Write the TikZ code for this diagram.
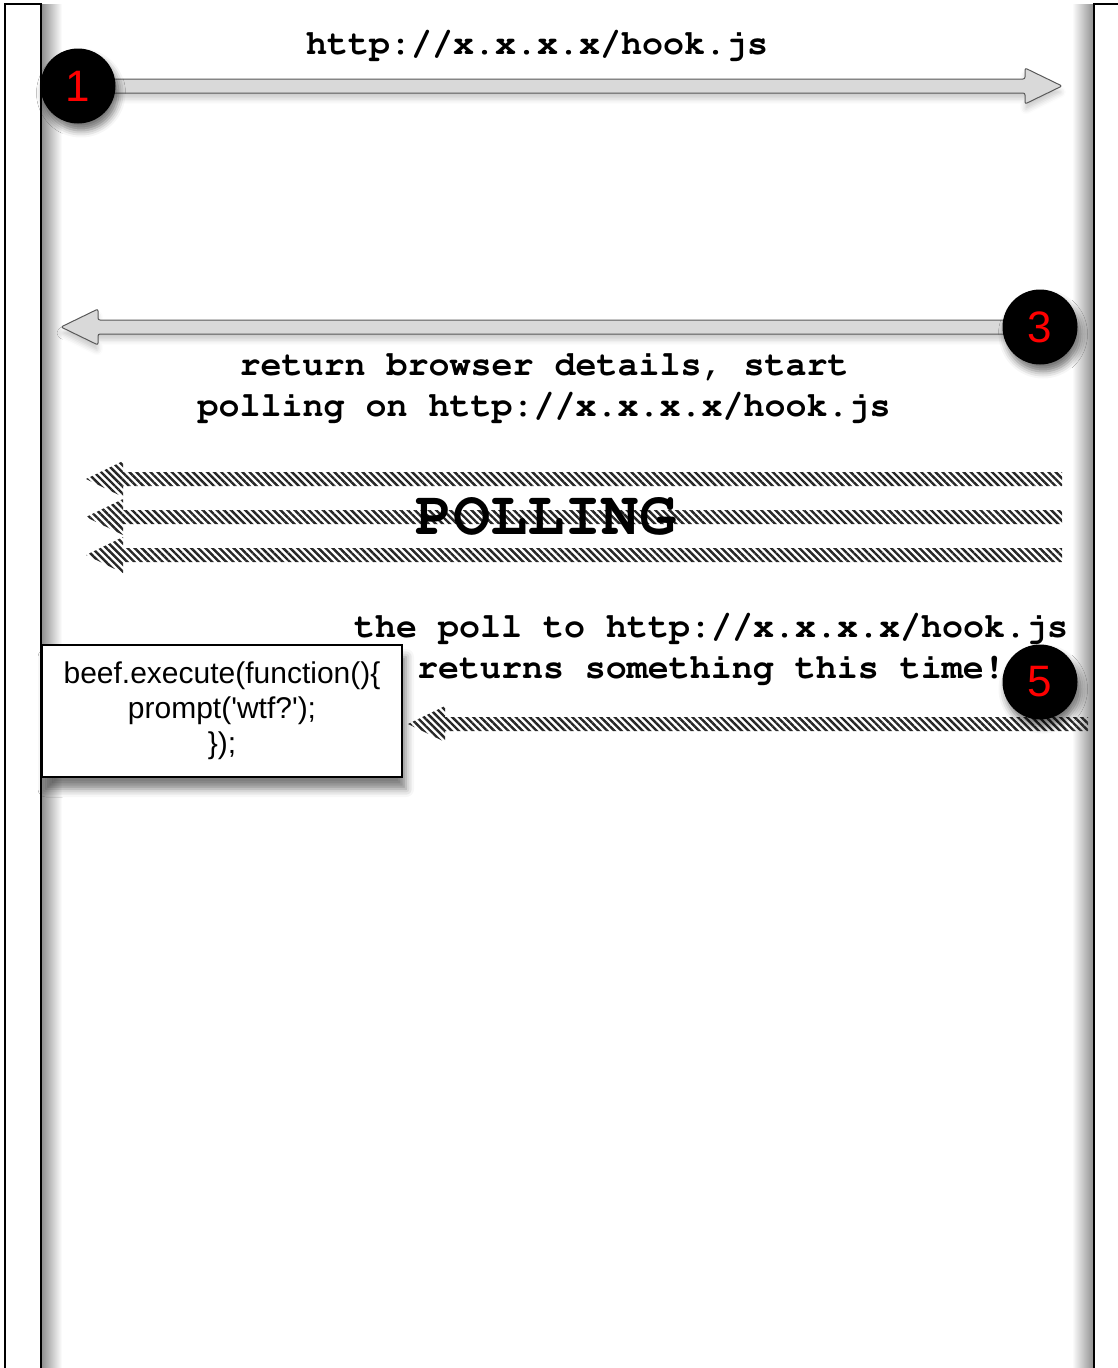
\documentclass[tikz,border=0pt]{standalone}
\usepackage[T1]{fontenc}
\usepackage{fontspec}
\setmainfont{Liberation Sans}
\setmonofont{Liberation Mono}
\newfontfamily\boxfont{Liberation Sans}[Ligatures=TeXOff]
\newcommand{\courbold}{\fontencoding{T1}\fontfamily{pcr}\fontseries{b}\selectfont}
\usetikzlibrary{calc,patterns.meta,shadows.blur}

% block arrow from #2 to the tip #3
\newcommand{\fatarrow}[3][]{%
  \path[#1] ($(#2)+(0,-7)$) -- ($($(#3)!37pt!(#2)$)+(0,-7)$)
    -- ($($(#3)!37pt!(#2)$)+(0,-18)$) -- (#3)
    -- ($($(#3)!37pt!(#2)$)+(0,18)$) -- ($($(#3)!37pt!(#2)$)+(0,7)$)
    -- ($(#2)+(0,7)$) -- cycle;}

\tikzset{
  lifeline/.style={draw=black, line width=2pt, fill=white},
  stepdot/.style={circle, fill=black, minimum size=75pt, inner sep=0pt, text=red,
    font=\fontsize{44}{44}\selectfont,
    blur shadow={shadow xshift=3pt, shadow yshift=-7pt, shadow blur radius=7pt, shadow opacity=55}},
  grayarrow/.style={fill=gray!30, draw=gray!70!black, line width=1pt, rounded corners=2pt,
    blur shadow={shadow xshift=0pt, shadow yshift=-6pt, shadow blur radius=5pt, shadow opacity=20}},
  hatcharrow/.style={pattern={Lines[angle=-45, distance=5pt, line width=2.4pt]}, pattern color=black!85},
  msgtext/.style={font=\courbold\fontsize{35}{41}\selectfont, align=center, inner sep=0pt},
  codebox/.style={draw=black, line width=2pt, fill=white, minimum width=360pt, minimum height=132pt,
    align=center, font=\boxfont\fontsize{30}{35}\selectfont,
    blur shadow={shadow xshift=4pt, shadow yshift=-12pt, shadow blur radius=8pt, shadow opacity=50}}
}

\begin{document}
\begin{tikzpicture}[x=1pt, y=-1pt]
  \useasboundingbox (0,0) rectangle (1118,1368);

  % browser and server
  \shade[left color=black!45, right color=white] (41,4) rectangle (62,1390);
  \shade[left color=white, right color=black!45] (1072,4) rectangle (1094,1390);
  \draw[lifeline] (5,4) rectangle (41,1390);
  \draw[lifeline] (1094,4) rectangle (1150,1390);

  \coordinate (one) at (78,86);
  \coordinate (three) at (1040,327);
  \coordinate (five) at (1040,682);
  \coordinate (hooktip) at (1062,86);
  \coordinate (rettip) at (61,327);
  \coordinate (hit) at (1088,724);
  \coordinate (hittip) at (408,724);

  \fatarrow[grayarrow]{one}{hooktip}
  \fatarrow[grayarrow]{three}{rettip}
  \foreach \y [count=\i] in {479,517,555} {
    \coordinate (poll\i) at (1062,\y);
    \coordinate (polltip\i) at (86,\y);
    \fatarrow[hatcharrow]{poll\i}{polltip\i}
  }
  \fatarrow[hatcharrow]{hit}{hittip}

  \node[stepdot] (onedot) at (one) {1};
  \node[stepdot] (threedot) at (three) {3};
  \node[stepdot] (fivedot) at (five) {5};

  \node[msgtext] (hookmsg) at (537,45) {http://x.x.x.x/hook.js};
  \node[msgtext] (retmsg) at (544,387) {return browser details, start\\polling on http://x.x.x.x/hook.js};
  \node[msgtext, font=\courbold\fontsize{62}{62}\selectfont] (polling) at (546,517) {POLLING};
  \node[msgtext] (hitmsg) at (711,649) {the poll to http://x.x.x.x/hook.js\\returns something this time!};

  \node[codebox] (code) at (222,711) {beef.execute(function()\{\\prompt('wtf?');\\\});};
\end{tikzpicture}
\end{document}
